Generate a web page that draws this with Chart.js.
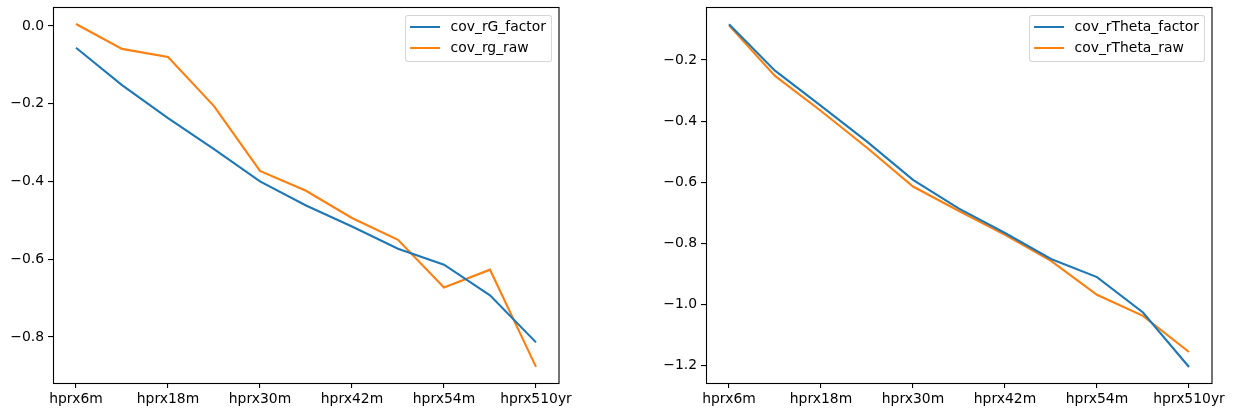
<!DOCTYPE html>
<html>
<head>
<meta charset="utf-8">
<script src="https://cdn.jsdelivr.net/npm/chart.js@4"></script>
<style>
  html, body { margin: 0; padding: 0; background: #fff; }
  #fig { position: relative; width: 1241px; height: 415px; overflow: hidden;
         font-family: "DejaVu Sans", sans-serif; }
  .panel { position: absolute; top: 0; height: 415px; }
  .legend { position: absolute; border: 1px solid rgba(204,204,204,0.8); border-radius: 3px;
            background: rgba(255,255,255,0.8); padding: 0 5px 3px 4px;
            font-family: "DejaVu Sans", sans-serif; font-size: 13.9px; color: #000;
            white-space: nowrap; box-sizing: content-box; }
  .legend .row { position: relative; height: 21px; line-height: 21px; padding-left: 41px; }
  .legend .swatch { position: absolute; left: 0; top: 10px; width: 30px; height: 2px; }
</style>
</head>
<body>
<div id="fig">
  <div class="panel" id="p1" style="left:0;width:620px;"><canvas id="c1" width="620" height="415"></canvas></div>
  <div class="panel" id="p2" style="left:620px;width:621px;"><canvas id="c2" width="621" height="415"></canvas></div>
</div>
<script>
// Holding-period return horizons (x categories)
const categories = ['hprx6m', 'hprx12m', 'hprx18m', 'hprx24m', 'hprx30m', 'hprx36m',
                    'hprx42m', 'hprx48m', 'hprx54m', 'hprx60m', 'hprx510yr'];

// Left panel: covariance with rG
const covRGFactor = [-0.056, -0.152, -0.237, -0.317, -0.400, -0.462, -0.516, -0.573, -0.614, -0.693, -0.814];
const covRgRaw    = [0.005, -0.059, -0.080, -0.206, -0.373, -0.424, -0.494, -0.550, -0.673, -0.627, -0.877];

// Right panel: covariance with rTheta
const covRThetaFactor = [-0.083, -0.235, -0.350, -0.467, -0.592, -0.686, -0.766, -0.851, -0.910, -1.026, -1.204];
const covRThetaRaw    = [-0.087, -0.252, -0.367, -0.487, -0.614, -0.694, -0.772, -0.857, -0.968, -1.037, -1.155];

// Y tick values for each panel
const leftYTicks  = [0.0, -0.2, -0.4, -0.6, -0.8];
const rightYTicks = [-0.2, -0.4, -0.6, -0.8, -1.0, -1.2];

const BLUE = '#1f77b4';
const ORANGE = '#ff7f0e';
const FONT = { family: '"DejaVu Sans", sans-serif', size: 13.9 };

const fmt = v => v.toFixed(1).replace('-', '\u2212');

// Black box around the plotting area
const framePlugin = {
  id: 'frame',
  afterDraw(chart) {
    const a = chart.chartArea, ctx = chart.ctx;
    ctx.save();
    ctx.strokeStyle = '#000';
    ctx.lineWidth = 1.1;
    ctx.strokeRect(Math.round(a.left) + 0.5, Math.round(a.top) + 0.5,
                   Math.round(a.right - a.left) - 0.5, Math.round(a.bottom - a.top));
    ctx.restore();
  }
};

// HTML legend placed in the upper-right corner of the plotting area
const htmlLegendPlugin = {
  id: 'htmlLegend',
  afterUpdate(chart, args, opts) {
    const host = document.getElementById(opts.host);
    let box = host.querySelector('.legend');
    if (!box) { box = document.createElement('div'); box.className = 'legend'; host.appendChild(box); }
    box.innerHTML = '';
    chart.data.datasets.forEach(ds => {
      const row = document.createElement('div');
      row.className = 'row';
      const sw = document.createElement('span');
      sw.className = 'swatch';
      sw.style.background = ds.borderColor;
      const tx = document.createElement('span');
      tx.textContent = ds.label;
      row.appendChild(sw); row.appendChild(tx);
      box.appendChild(row);
    });
    const a = chart.chartArea;
    box.style.top = (a.top + 7.7) + 'px';
    box.style.right = (chart.width - a.right + 7) + 'px';
  }
};

function makeChart(canvasId, hostId, series, yMin, yMax, yTicks, yWidth, padRight) {
  return new Chart(document.getElementById(canvasId), {
    type: 'line',
    data: {
      labels: categories,
      datasets: series.map(s => ({
        label: s.label, data: s.data, borderColor: s.color, backgroundColor: s.color,
        borderWidth: 2.1, pointRadius: 0, tension: 0, fill: false
      }))
    },
    options: {
      responsive: false,
      animation: false,
      devicePixelRatio: 1,
      layout: { padding: { top: 7, right: padRight, left: 0, bottom: 0 } },
      plugins: { legend: { display: false }, tooltip: { enabled: false }, htmlLegend: { host: hostId } },
      scales: {
        x: {
          type: 'category',
          offset: true,
          border: { display: false },
          grid: {
            drawOnChartArea: false, drawTicks: true, tickLength: 5, lineWidth: 1.1,
            offset: false,
            color: c => (c.index % 2 === 0 ? '#000' : 'rgba(0,0,0,0)')
          },
          ticks: {
            autoSkip: false, maxRotation: 0, minRotation: 0, padding: 3,
            color: '#000', font: FONT,
            callback: function (v, i) { return i % 2 === 0 ? this.getLabelForValue(v) : ''; }
          },
          afterFit: s => { s.height = 32; s.paddingLeft = 0; s.paddingRight = 0; }
        },
        y: {
          type: 'linear',
          min: yMin, max: yMax,
          border: { display: false },
          grid: { drawOnChartArea: false, drawTicks: true, tickLength: 5, lineWidth: 1.1, color: '#000' },
          ticks: { padding: 4, color: '#000', font: FONT, callback: v => fmt(v) },
          afterBuildTicks: s => { s.ticks = yTicks.map(v => ({ value: v })); },
          afterFit: s => { s.width = yWidth; s.paddingTop = 0; s.paddingBottom = 0; }
        }
      }
    },
    plugins: [framePlugin, htmlLegendPlugin]
  });
}

makeChart('c1', 'p1', [
  { label: 'cov_rG_factor', data: covRGFactor, color: BLUE },
  { label: 'cov_rg_raw', data: covRgRaw, color: ORANGE }
], -0.9185, 0.0488, leftYTicks, 53, 61);

makeChart('c2', 'p2', [
  { label: 'cov_rTheta_factor', data: covRThetaFactor, color: BLUE },
  { label: 'cov_rTheta_raw', data: covRThetaRaw, color: ORANGE }
], -1.2565, -0.0268, rightYTicks, 86, 29);
</script>
</body>
</html>
